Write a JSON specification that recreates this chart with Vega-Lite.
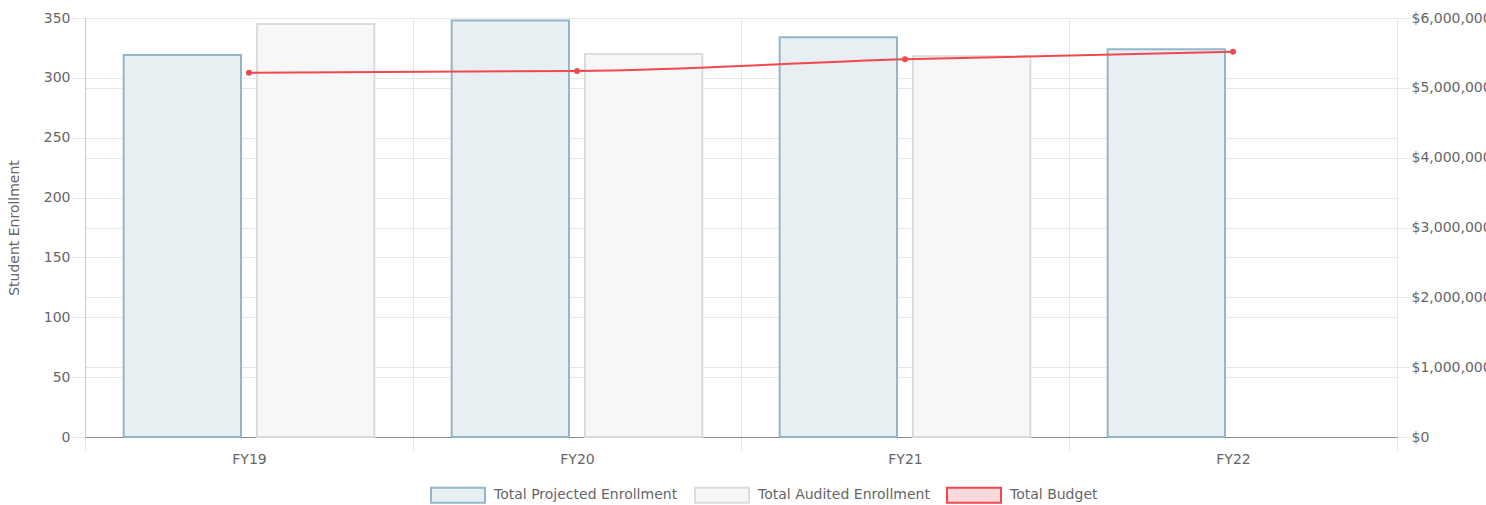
{
  "$schema": "https://vega.github.io/schema/vega-lite/v6.json",
  "width": 1312,
  "height": 419,
  "autosize": {"type": "none"},
  "padding": {"left": 85, "top": 18, "right": 89, "bottom": 68},
  "background": "white",
  "config": {
    "font": "DejaVu Sans",
    "view": {"stroke": null},
    "axis": {
      "labelFont": "DejaVu Sans",
      "labelColor": "#666666",
      "labelFontSize": 14,
      "gridColor": "#e6e6e6",
      "tickColor": "#e6e6e6",
      "titleFont": "DejaVu Sans",
      "titleColor": "#666666",
      "titleFontSize": 14,
      "titleFontWeight": "normal"
    },
    "legend": {
      "labelFont": "DejaVu Sans",
      "labelColor": "#666666",
      "labelFontSize": 14,
      "labelLimit": 400
    }
  },
  "datasets": {
    "enroll": [
      {"year": "FY19", "series": "Total Projected Enrollment", "enrollment": 319},
      {"year": "FY19", "series": "Total Audited Enrollment", "enrollment": 345},
      {"year": "FY20", "series": "Total Projected Enrollment", "enrollment": 348},
      {"year": "FY20", "series": "Total Audited Enrollment", "enrollment": 320},
      {"year": "FY21", "series": "Total Projected Enrollment", "enrollment": 334},
      {"year": "FY21", "series": "Total Audited Enrollment", "enrollment": 318},
      {"year": "FY22", "series": "Total Projected Enrollment", "enrollment": 324}
    ],
    "budget": [
      {"year": "FY19", "series": "Total Budget", "budget": 5217000},
      {"year": "FY20", "series": "Total Budget", "budget": 5241000},
      {"year": "FY21", "series": "Total Budget", "budget": 5409000},
      {"year": "FY22", "series": "Total Budget", "budget": 5518000}
    ]
  },
  "layer": [
    {
      "data": {"name": "enroll"},
      "mark": {"type": "bar", "strokeWidth": 2},
      "encoding": {
        "x": {
          "field": "year", "type": "nominal",
          "sort": ["FY19", "FY20", "FY21", "FY22"],
          "scale": {"domain": ["FY19", "FY20", "FY21", "FY22"], "paddingInner": 0, "paddingOuter": 0},
          "axis": {"title": null, "tickBand": "extent", "grid": true, "tickSize": 13, "labelAngle": 0, "domainColor": "#8c8c8c", "labelPadding": 2}
        },
        "xOffset": {
          "field": "series", "type": "nominal",
          "scale": {"domain": ["Total Projected Enrollment", "Total Audited Enrollment"], "paddingInner": 0.12, "paddingOuter": 0.29}
        },
        "y": {
          "field": "enrollment", "type": "quantitative",
          "scale": {"domain": [0, 350], "nice": false},
          "axis": {"title": "Student Enrollment", "values": [0, 50, 100, 150, 200, 250, 300, 350], "tickSize": 13, "labelPadding": 2, "domainColor": "#c8c8c8", "titlePadding": 22}
        },
        "fill": {
          "field": "series", "type": "nominal",
          "scale": {"domain": ["Total Projected Enrollment", "Total Audited Enrollment", "Total Budget"], "range": ["#e8eff3", "#f7f7f7", "#fbd9dc"]},
          "legend": {"orient": "none", "legendX": 345, "legendY": 449, "direction": "horizontal", "title": null, "symbolType": "M-1,-0.28L1,-0.28L1,0.28L-1,0.28Z", "symbolSize": 2916, "symbolStrokeWidth": 2, "columnPadding": 13, "labelOffset": 8, "symbolOpacity": 1, "labelLimit": 400}
        },
        "stroke": {
          "field": "series", "type": "nominal",
          "scale": {"domain": ["Total Projected Enrollment", "Total Audited Enrollment", "Total Budget"], "range": ["#93b6ca", "#dcdcdc", "#f0484e"]},
          "legend": {"orient": "none", "legendX": 345, "legendY": 449, "direction": "horizontal", "title": null, "symbolType": "M-1,-0.28L1,-0.28L1,0.28L-1,0.28Z", "symbolSize": 2916, "symbolStrokeWidth": 2, "columnPadding": 13, "labelOffset": 8, "symbolOpacity": 1, "labelLimit": 400}
        }
      }
    },
    {
      "data": {"name": "budget"},
      "encoding": {
        "x": {"field": "year", "type": "nominal", "sort": ["FY19", "FY20", "FY21", "FY22"]},
        "y": {
          "field": "budget", "type": "quantitative",
          "scale": {"domain": [0, 6000000], "nice": false},
          "axis": {"orient": "right", "title": null, "format": "$,.0f", "values": [0, 1000000, 2000000, 3000000, 4000000, 5000000, 6000000], "tickSize": 13, "labelPadding": 1, "domain": false, "grid": true}
        }
      },
      "layer": [
        {
          "mark": {"type": "line", "interpolate": "monotone", "strokeWidth": 2},
          "encoding": {"stroke": {"field": "series", "type": "nominal"}}
        },
        {
          "mark": {"type": "point", "filled": true, "size": 36, "color": "#f0484e", "opacity": 1}
        }
      ]
    }
  ],
  "resolve": {"scale": {"y": "independent"}}
}
